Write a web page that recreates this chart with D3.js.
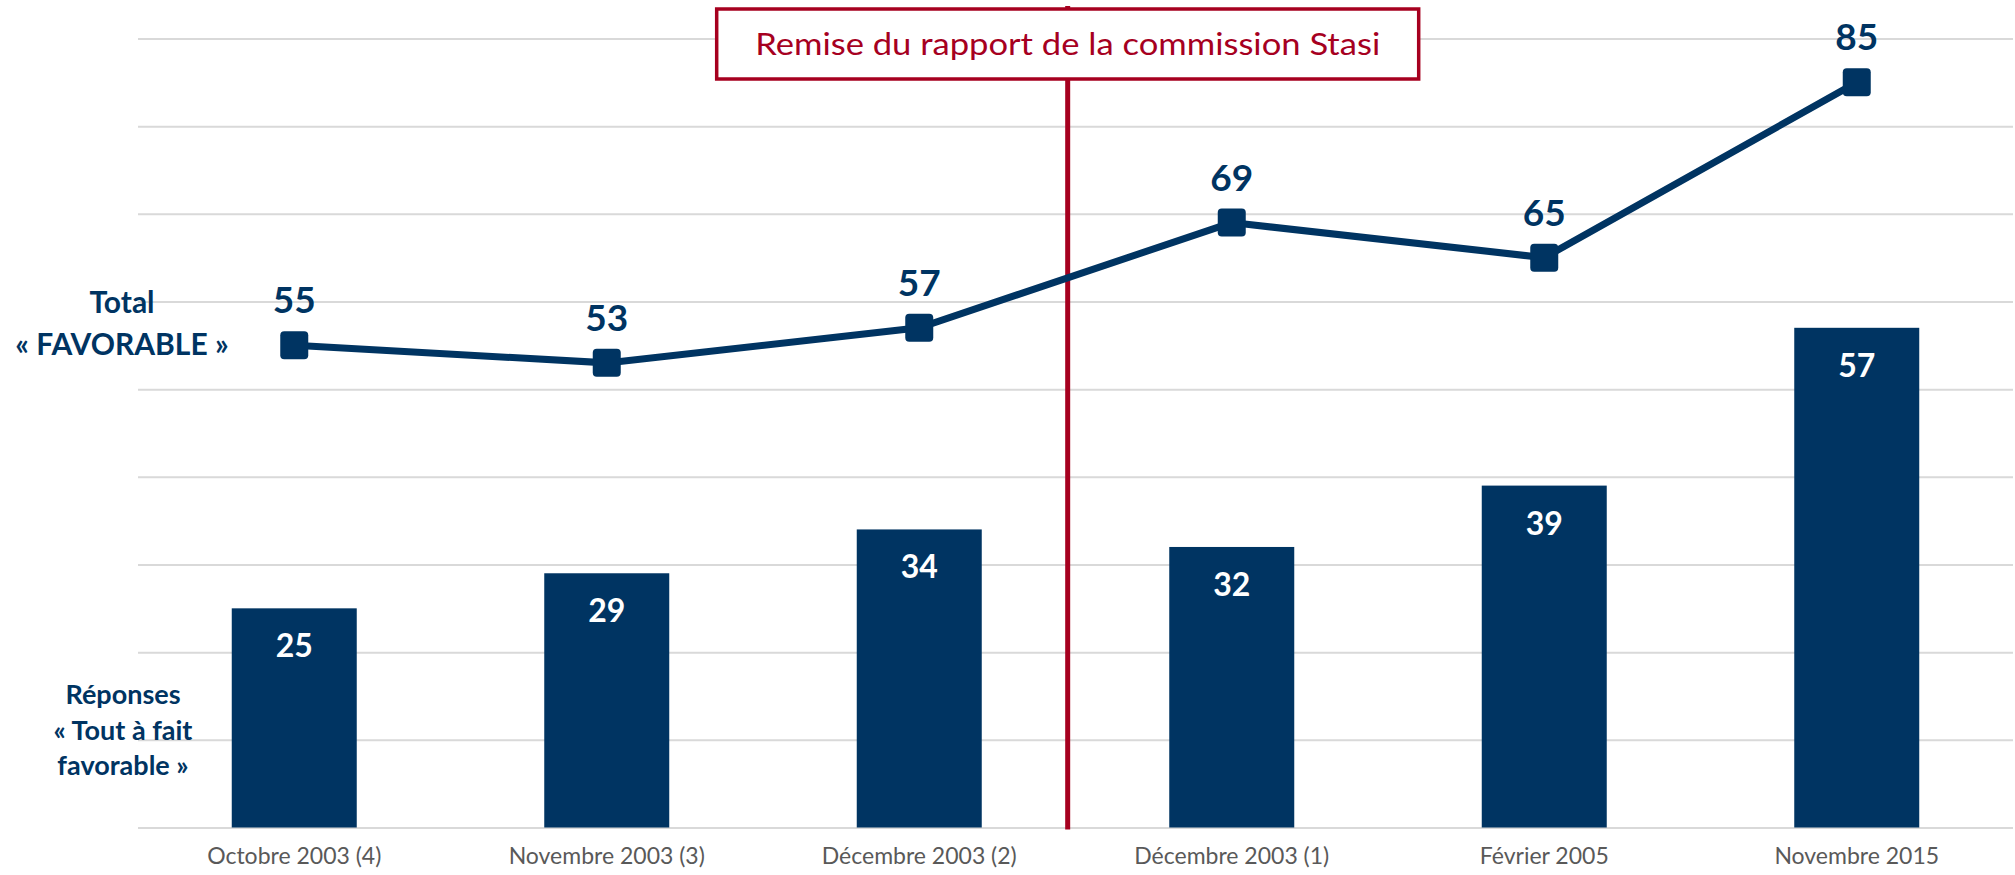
<!DOCTYPE html>
<html>
<head>
<meta charset="utf-8">
<script src="https://cdn.jsdelivr.net/npm/d3@7"></script>
<style>
  body { margin: 0; background: #fff; }
  svg { display: block; font-family: Lato, "Noto Sans", sans-serif; }
</style>
</head>
<body>
<div id="chart"></div>
<script>
var categories = ["Octobre 2003 (4)", "Novembre 2003 (3)", "Décembre 2003 (2)",
                  "Décembre 2003 (1)", "Février 2005", "Novembre 2015"];
var totalFavorable = [55, 53, 57, 69, 65, 85];
var toutAFait = [25, 29, 34, 32, 39, 57];
var gridTicks = [0, 10, 20, 30, 40, 50, 60, 70, 80, 90];
var eventLabel = "Remise du rapport de la commission Stasi";

var navy = "#003462",
    crimson = "#a6001f";

var width = 2015, height = 875,
    margin = {top: 38.5, right: 2, bottom: 47.5, left: 138};

var svg = d3.select("#chart").append("svg")
    .attr("width", width)
    .attr("height", height);

var x = d3.scaleBand()
    .domain(categories)
    .range([margin.left, width - margin.right])
    .paddingInner(0.6)
    .paddingOuter(0.3);

var y = d3.scaleLinear()
    .domain([0, 90])
    .range([height - margin.bottom, margin.top]);

var cx = function(i) { return x(categories[i]) + x.bandwidth() / 2; };

// grid
svg.append("g")
    .attr("transform", "translate(" + margin.left + ",0)")
    .call(d3.axisLeft(y).tickValues(gridTicks).tickSize(-(width - margin.left - margin.right)).tickFormat(""))
    .call(function(g) { g.select(".domain").remove(); })
    .selectAll("line")
      .attr("stroke", "#d9d9d9")
      .attr("stroke-width", 2);

// x axis labels
svg.append("g")
    .attr("transform", "translate(0," + (height - margin.bottom) + ")")
    .call(d3.axisBottom(x).tickSize(0).tickPadding(20))
    .call(function(g) { g.select(".domain").remove(); })
    .selectAll("text")
      .attr("fill", "#595959")
      .style("font-size", "23px")
      .style("font-family", "Lato, sans-serif");

// bars
svg.append("g").selectAll("rect")
  .data(toutAFait)
  .join("rect")
    .attr("x", function(d, i) { return x(categories[i]); })
    .attr("y", function(d) { return y(d); })
    .attr("width", x.bandwidth())
    .attr("height", function(d) { return y(0) - y(d); })
    .attr("fill", navy);

svg.append("g").selectAll("text")
  .data(toutAFait)
  .join("text")
    .attr("x", function(d, i) { return cx(i); })
    .attr("y", function(d) { return y(d) + 49; })
    .attr("text-anchor", "middle")
    .attr("fill", "#fff")
    .style("font-size", "32px")
    .style("font-weight", "bold")
    .text(function(d) { return d; });

// event line + box
var eventX = cx(2) + x.step() * 0.475;

svg.append("line")
    .attr("x1", eventX).attr("x2", eventX)
    .attr("y1", 6).attr("y2", y(0) + 2)
    .attr("stroke", crimson)
    .attr("stroke-width", 5);

svg.append("rect")
    .attr("x", eventX - 351)
    .attr("y", 9)
    .attr("width", 702)
    .attr("height", 70)
    .attr("fill", "#fff")
    .attr("stroke", crimson)
    .attr("stroke-width", 3.5);

svg.append("text")
    .attr("x", eventX)
    .attr("y", 55)
    .attr("text-anchor", "middle")
    .attr("fill", crimson)
    .attr("textLength", 625)
    .attr("lengthAdjust", "spacingAndGlyphs")
    .style("font-size", "31px")
    .text(eventLabel);

// line
var line = d3.line()
    .x(function(d, i) { return cx(i); })
    .y(function(d) { return y(d); });

svg.append("path")
    .datum(totalFavorable)
    .attr("fill", "none")
    .attr("stroke", navy)
    .attr("stroke-width", 7)
    .attr("d", line);

svg.append("g").selectAll("rect")
  .data(totalFavorable)
  .join("rect")
    .attr("x", function(d, i) { return cx(i) - 14; })
    .attr("y", function(d) { return y(d) - 14; })
    .attr("width", 28)
    .attr("height", 28)
    .attr("rx", 4)
    .attr("fill", navy);

svg.append("g").selectAll("text")
  .data(totalFavorable)
  .join("text")
    .attr("x", function(d, i) { return cx(i); })
    .attr("y", function(d) { return y(d) - 32; })
    .attr("text-anchor", "middle")
    .attr("fill", navy)
    .style("font-size", "37px")
    .style("font-weight", "bold")
    .text(function(d) { return d; });

// side labels
var side = svg.append("g")
    .attr("fill", navy)
    .attr("text-anchor", "middle")
    .style("font-weight", "bold");

side.append("text").attr("x", 122).attr("y", 313).style("font-size", "30px").text("Total");
side.append("text").attr("x", 122).attr("y", 355).style("font-size", "30px").text("« FAVORABLE »");

side.append("text").attr("x", 123).attr("y", 704).style("font-size", "27px").text("Réponses");
side.append("text").attr("x", 123).attr("y", 740).style("font-size", "27px").text("« Tout à fait");
side.append("text").attr("x", 123).attr("y", 775).style("font-size", "27px").text("favorable »");
</script>
</body>
</html>
